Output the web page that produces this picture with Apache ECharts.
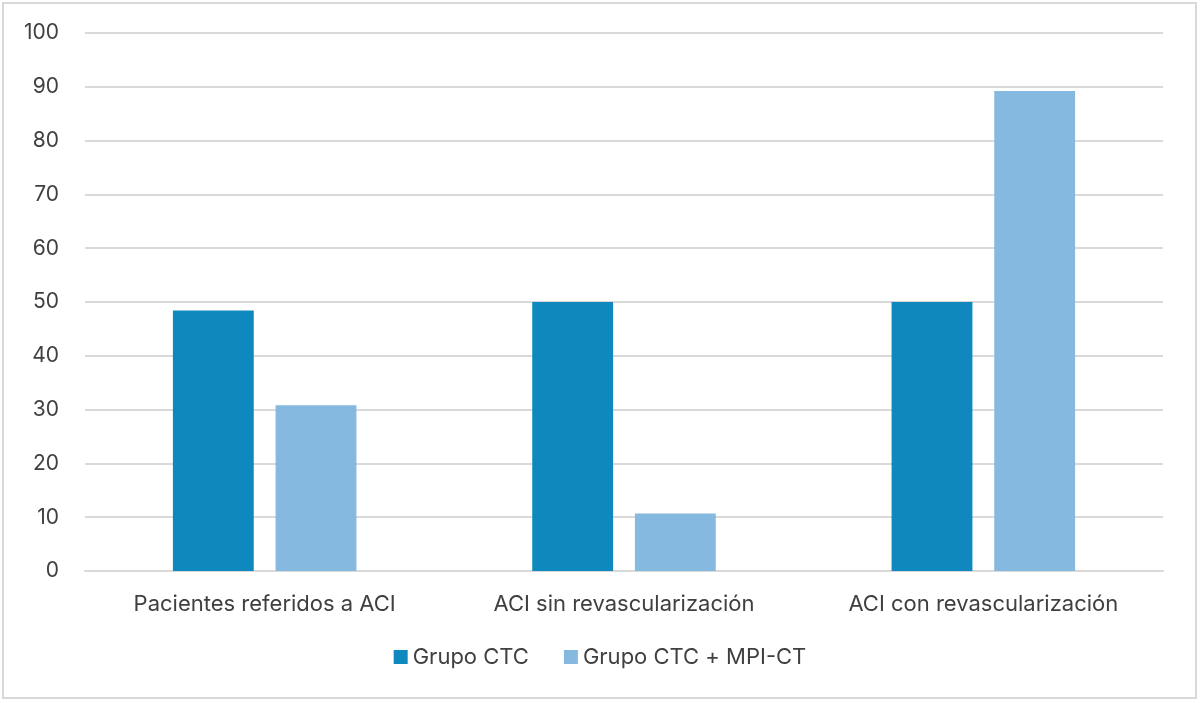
<!DOCTYPE html>
<html>
<head>
<meta charset="utf-8">
<script src="https://cdn.jsdelivr.net/npm/echarts@6/dist/echarts.min.js"></script>
<style>
  html, body { margin: 0; padding: 0; background: #fff; }
  #chart { width: 1200px; height: 703px; }
</style>
</head>
<body>
<div id="chart"></div>
<script>
// data
var categories = ["Pacientes referidos a ACI", "ACI sin revascularización", "ACI con revascularización"];
var grupoCTC = [48.4, 50, 50];
var grupoCTCMPI = [30.8, 10.7, 89.2];
var seriesNames = ["Grupo CTC", "Grupo CTC + MPI-CT"];

var chart = echarts.init(document.getElementById("chart"));
var textColor = "#404040";
var font = "Inter, 'Liberation Sans', sans-serif";

var option = {
  animation: false,
  textStyle: { fontFamily: font },
  graphic: [
    {
      type: "rect",
      shape: { x: 3, y: 3, width: 1193, height: 695 },
      style: { fill: "none", stroke: "#d9d9d9", lineWidth: 2 }
    }
  ],
  grid: { left: 85, right: 37, top: 33, bottom: 132 },
  legend: {
    bottom: 30,
    left: "center",
    itemWidth: 14,
    itemHeight: 14,
    itemGap: 35,
    icon: "rect",
    textStyle: { fontSize: 22, color: textColor, fontFamily: font },
    data: seriesNames
  },
  xAxis: {
    type: "category",
    data: categories,
    axisLine: { lineStyle: { color: "#d9d9d9", width: 2 } },
    axisTick: { show: false },
    axisLabel: { fontSize: 22, color: textColor, margin: 22, fontFamily: font }
  },
  yAxis: {
    type: "value",
    min: 0,
    max: 100,
    interval: 10,
    axisLine: { show: false },
    axisTick: { show: false },
    splitLine: { lineStyle: { color: "#d9d9d9", width: 2 } },
    axisLabel: { fontSize: 21, color: textColor, margin: 26, fontFamily: font }
  },
  series: [
    {
      name: seriesNames[0],
      type: "bar",
      data: grupoCTC,
      barWidth: "22.5%",
      barGap: "27%",
      itemStyle: { color: "#0f89bd" }
    },
    {
      name: seriesNames[1],
      type: "bar",
      data: grupoCTCMPI,
      barWidth: "22.5%",
      itemStyle: { color: "#86b9e0" }
    }
  ]
};

chart.setOption(option);
</script>
</body>
</html>
